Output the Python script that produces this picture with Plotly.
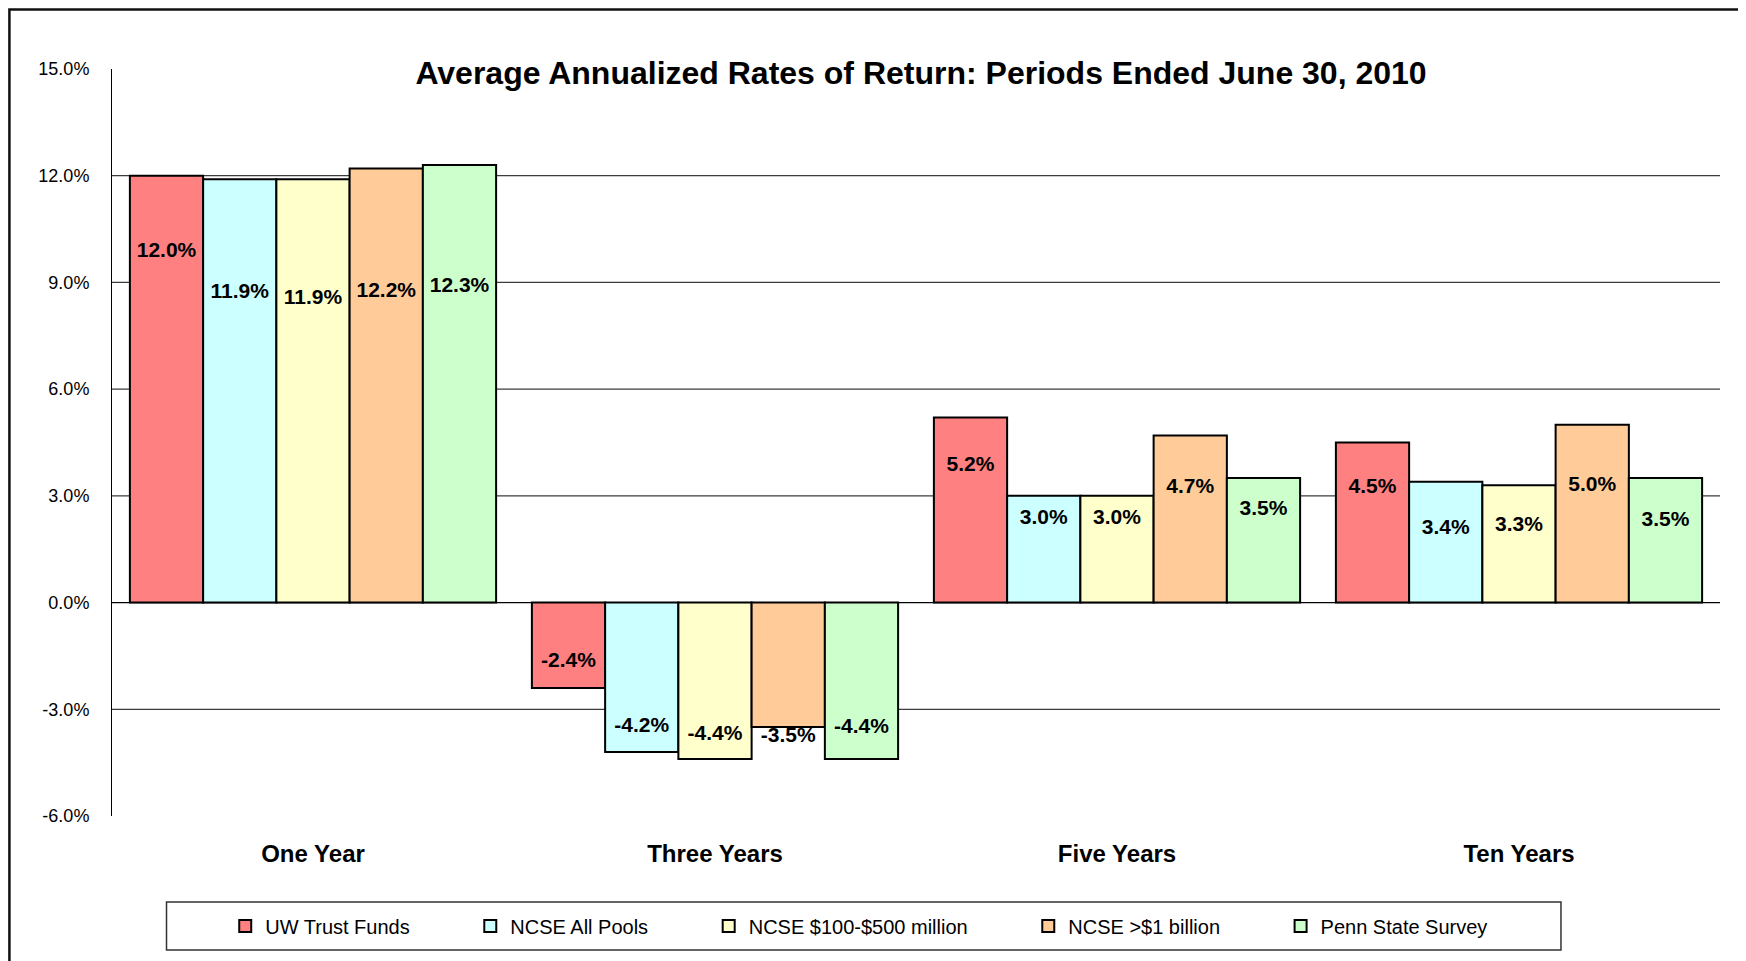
import plotly.graph_objects as go

# ---------------- data ----------------
categories = ["One Year", "Three Years", "Five Years", "Ten Years"]
series_names = ["UW Trust Funds", "NCSE All Pools", "NCSE $100-$500 million",
                "NCSE >$1 billion", "Penn State Survey"]
uw_trust = [12.0, -2.4, 5.2, 4.5]
ncse_all = [11.9, -4.2, 3.0, 3.4]
ncse_100_500 = [11.9, -4.4, 3.0, 3.3]
ncse_1b = [12.2, -3.5, 4.7, 5.0]
penn_state = [12.3, -4.4, 3.5, 3.5]
series_values = [uw_trust, ncse_all, ncse_100_500, ncse_1b, penn_state]

# vertical placement of the value labels (in axis units)
label_y_uw = [9.86, -1.65, 3.86, 3.23]
label_y_all = [8.71, -3.50, 2.35, 2.07]
label_y_100 = [8.55, -3.72, 2.35, 2.16]
label_y_1b = [8.74, -3.78, 3.23, 3.29]
label_y_penn = [8.89, -3.53, 2.60, 2.29]
label_ys = [label_y_uw, label_y_all, label_y_100, label_y_1b, label_y_penn]

y_tickvals = [-6, -3, 0, 3, 6, 9, 12, 15]
y_ticktext = ["-6.0%", "-3.0%", "0.0%", "3.0%", "6.0%", "9.0%", "12.0%", "15.0%"]
grid_values = [-3, 0, 3, 6, 9, 12]

colors = ["#FF8080", "#CCFFFF", "#FFFFCC", "#FFCC99", "#CCFFCC"]

FONT = "Liberation Sans, Arial, sans-serif"
PAD = "\u00a0" * 10

fig = go.Figure()
for i, (name, vals, col) in enumerate(zip(series_names, series_values, colors)):
    fig.add_trace(go.Bar(
        x=categories, y=vals, name=name + PAD,
        marker=dict(color=col, line=dict(color="black", width=2)),
        offsetgroup=str(i), hoverinfo="skip",
    ))
for i, (vals, ly) in enumerate(zip(series_values, label_ys)):
    fig.add_trace(go.Scatter(
        x=categories, y=ly, mode="text",
        text=[f"{v:.1f}%" for v in vals],
        textposition="middle center",
        textfont=dict(family=FONT, size=21, color="black", weight="bold"),
        offsetgroup=str(i), showlegend=False, hoverinfo="skip",
    ))

shapes = []
for g in grid_values:
    shapes.append(dict(type="line", xref="paper", yref="y", x0=0, x1=1, y0=g, y1=g,
                       line=dict(color="#3c3c3c" if g != 0 else "#000", width=1.2), layer="below"))
# legend box
shapes.append(dict(type="rect", xref="paper", yref="paper",
                   x0=0.0339, x1=0.9011, y0=-0.1794, y1=-0.1151,
                   line=dict(color="#333", width=1.5), fillcolor="rgba(0,0,0,0)", layer="above"))
# outer chart frame
shapes.append(dict(type="rect", xref="paper", yref="paper",
                   x0=-0.0638, x1=1.1, y0=-0.3, y1=1.0797,
                   line=dict(color="#111", width=2.5), fillcolor="rgba(0,0,0,0)", layer="above"))

fig.update_layout(
    width=1746, height=961,
    margin=dict(l=104, r=34, t=61, b=153),
    paper_bgcolor="white", plot_bgcolor="white",
    barmode="group", bargap=0.089, bargroupgap=0,
    scattermode="group", scattergap=0.089,
    font=dict(family=FONT, color="black"),
    title=dict(text="Average Annualized Rates of Return: Periods Ended June 30, 2010",
               font=dict(family=FONT, size=32, color="black", weight="bold"),
               x=913 / 1746, xref="container", xanchor="center",
               y=1 - 65 / 961, yref="container", yanchor="middle"),
    xaxis=dict(showgrid=False, showline=False, zeroline=False, ticks="",
               tickfont=dict(family=FONT, size=24, color="black", weight="bold"),
               ticklabelstandoff=21, fixedrange=True),
    yaxis=dict(range=[-6, 15], tickvals=y_tickvals, ticktext=y_ticktext,
               showgrid=False, zeroline=False, showline=True, linecolor="black", linewidth=1,
               ticks="", tickfont=dict(family=FONT, size=18, color="black"),
               ticklabelstandoff=18, fixedrange=True),
    legend=dict(orientation="h", x=0.4818, xanchor="center", y=-0.1473, yanchor="middle",
                font=dict(family=FONT, size=20, color="black"),
                bgcolor="rgba(0,0,0,0)", borderwidth=0, itemwidth=30, traceorder="normal"),
    shapes=shapes,
    showlegend=True,
)

fig.write_html("out.html")
